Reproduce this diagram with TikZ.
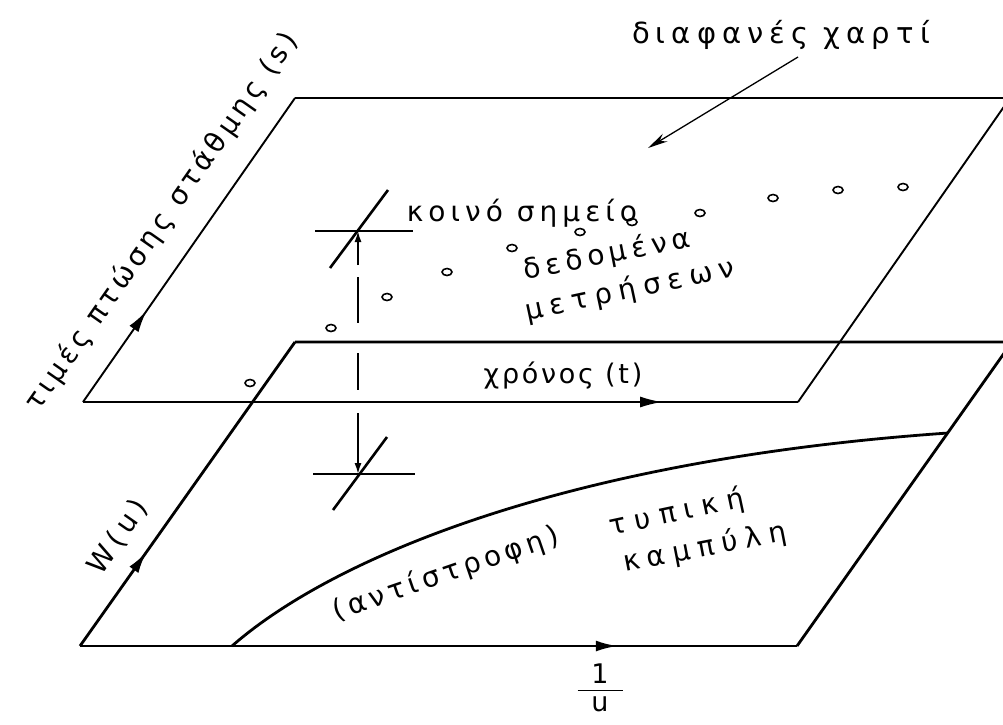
\documentclass[tikz,border=0pt]{standalone}
\usepackage{fontspec}
\setmainfont[LetterSpace=17]{DejaVu Sans}
\usetikzlibrary{arrows.meta,decorations.markings}
\newcommand\lblfont[2]{\fontsize{#1}{#1}\selectfont\addfontfeature{LetterSpace=#2}}
\tikzset{
  lbl/.style={font=\lblfont{28}{17}, inner sep=0pt},
  sheet/.style={line width=1.9pt, line join=miter},
  base/.style={line width=2.8pt},
  midarrow/.style={postaction={decorate}, decoration={markings, mark=at position #1 with {\arrow{Latex[length=22pt,width=11pt]}}}},
  datapt/.style={line width=1.6pt},
  cross/.style={line width=2.6pt},
  guide/.style={line width=1.6pt},
  smalltip/.style={-{Latex[length=11pt,width=7pt]}},
}
\begin{document}
\begin{tikzpicture}[x=1pt,y=-1pt]
\fill[white] (0,0) rectangle (1003,724);
\useasboundingbox (0,0) rectangle (1003,724);
\clip (0,0) rectangle (1003,724);
% upper (transparent) sheet
\coordinate (A) at (83,402); \coordinate (B) at (295,98);
\coordinate (C) at (1010,98); \coordinate (D) at (798,402);
% lower sheet
\coordinate (E) at (80,646); \coordinate (F) at (295,342);
\coordinate (G) at (1012,342); \coordinate (H) at (797,646);
\draw[base] (F) -- (G) -- (H);
\draw[base, midarrow=0.31] (E) -- (F);
\draw[base, midarrow=0.75] (E) -- (H);
\draw[sheet] (B) -- (C) -- (D);
\draw[sheet, midarrow=0.30] (A) -- (B);
\draw[sheet, midarrow=0.81] (A) -- (D);
% type curve
\coordinate (K0) at (232,646); \coordinate (K1) at (948,433);
\draw[base] (K0) .. controls (330,560) and (560,460) .. (K1);
% data points
\foreach \p in {(250,383),(331,328),(387,297),(447,272),(512,248),(580,232),(632,222),(700,213),(773,198),(838,190),(903,187)}
  \draw[datapt] \p ellipse [x radius=5pt, y radius=3.5pt];
% crosshairs
\coordinate (U) at (358,231); \coordinate (L) at (358,474);
\draw[cross] (315,231) -- (413,231);
\draw[cross] (330,268) -- (388,190);
\draw[cross] (313,474) -- (415,474);
\draw[cross] (333,510) -- (387,437);
\coordinate (U1) at (358,265); \coordinate (L1) at (358,413);
\draw[guide, smalltip] (U1) -- (U);
\draw[guide] (358,277) -- (358,323);
\draw[guide] (358,353) -- (358,390);
\draw[guide, smalltip] (L1) -- (L);
% labels
\node[lbl, font=\lblfont{28}{15}, rotate=55] (ls) at (162,222) {τιμές πτώσης στάθμης (s)};
\node[lbl, font=\lblfont{28}{19}, rotate=55] (lw) at (118,537) {W(u)};
\node[lbl, font=\lblfont{27}{10}] (lt) at (563,376) {χρόνος (t)};
\node[lbl, font=\lblfont{29}{21}] (paper) at (781,35) {διαφανές χαρτί};
\coordinate (P0) at (798,57); \coordinate (P1) at (648,148);
\draw[line width=1.3pt, -{Stealth[length=20pt,width=9pt]}] (P0) -- (P1);
\node[lbl, font=\lblfont{28}{18}] (common) at (522,213) {κοινό σημείο};
\node[lbl, font=\lblfont{28}{18}, rotate=11] (data1) at (607,255) {δεδομένα};
\node[lbl, font=\lblfont{28}{25}, rotate=12] (data2) at (630,290) {μετρήσεων};
\node[lbl, font=\lblfont{28}{16}, rotate=19] (inv) at (446,574) {(αντίστροφη)};
\node[lbl, font=\lblfont{28}{31}, rotate=12] (typ1) at (677,513) {τυπική};
\node[lbl, font=\lblfont{28}{27}, rotate=11] (typ2) at (705,548) {καμπύλη};
\node[lbl, font=\lblfont{27}{0}] (frac) at (600,688) {\vbox{\offinterlineskip\hbox to 45pt{\hfil 1\hfil}\kern6pt\hrule height 1.6pt\kern5pt\hbox to 45pt{\hfil u\hfil}}};
\end{tikzpicture}
\end{document}
